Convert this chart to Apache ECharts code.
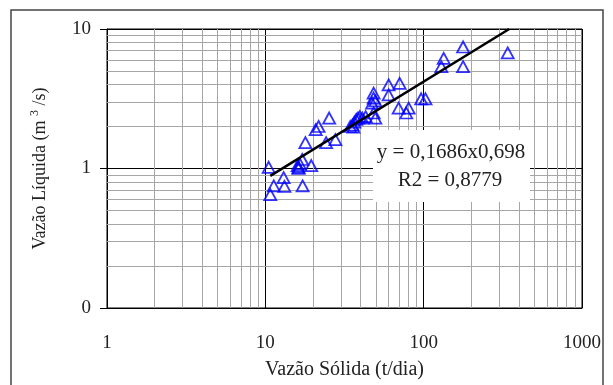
<!DOCTYPE html>
<html>
<head>
<meta charset="utf-8">
<script src="https://cdn.jsdelivr.net/npm/echarts@6/dist/echarts.min.js"></script>
<style>
html,body{margin:0;padding:0;background:#fff;}
#main{width:613px;height:385px;}
</style>
</head>
<body>
<div id="main"></div>
<script>
// medições: vazão sólida (t/dia) x vazão líquida (m3/s)
var solida = [10.5, 10.75, 11.3, 13.05, 13.2, 16.2, 16.2, 16.0, 16.5, 17.1, 17.2, 17.9, 19.5, 20.8, 21.7,
    25.3, 24.2, 27.7, 34.4, 35.5, 36.5, 37.5, 38.5, 39.5, 41, 36, 43, 47.2, 48.3, 48.3, 48.3, 49.5, 49.5,
    60.1, 60.1, 70.5, 69.5, 80.4, 77.6, 96.4, 102.7, 129.3, 133.8, 177.4, 177.4, 339.5];
var liquida = [1.02, 0.65, 0.75, 0.86, 0.745, 1.0, 1.02, 1.05, 1.08, 1.16, 0.75, 1.53, 1.05, 1.9, 2.0,
    2.3, 1.53, 1.61, 2.0, 2.05, 2.15, 2.25, 2.3, 2.35, 2.3, 1.98, 2.35, 2.94, 3.2, 3.47, 2.5, 2.3, 3.05,
    3.97, 3.37, 4.08, 2.71, 2.71, 2.5, 3.16, 3.16, 5.37, 6.15, 7.43, 5.37, 6.74];

// linha de tendência y = 0,1686x^0,698 (extremos)
var tendX = [10.75, 347];
var tendY = [0.885, 10];

// grade secundária
var gradeX = [2, 3, 4, 5, 6, 7, 8, 9, 20, 30, 40, 50, 60, 70, 80, 90, 200, 300, 400, 500, 600, 700, 800, 900];
var gradeY = [0.2, 0.3, 0.4, 0.5, 0.6, 0.7, 0.8, 0.9, 2, 3, 4, 5, 6, 7, 8, 9];

var eqTexto = 'y = 0,1686x0,698';
var r2Texto = 'R2 = 0,8779';

var fonte = '"Liberation Serif", "DejaVu Serif", serif';

var pontos = [];
for (var i = 0; i < solida.length; i++) {
    pontos.push([solida[i], liquida[i]]);
}
var tend = [];
for (var j = 0; j < tendX.length; j++) {
    tend.push([tendX[j], tendY[j]]);
}
var linhas = [];
for (var a = 0; a < gradeX.length; a++) linhas.push({xAxis: gradeX[a]});
for (var b = 0; b < gradeY.length; b++) linhas.push({yAxis: gradeY[b]});

var chart = echarts.init(document.getElementById('main'));
var option = {
    animation: false,
    backgroundColor: '#fff',
    grid: {
        left: 107,
        right: 31,
        top: 29,
        bottom: 75,
        show: true,
        borderColor: '#000',
        borderWidth: 1
    },
    xAxis: {
        type: 'log',
        logBase: 10,
        min: 1,
        max: 1000,
        z: 2,
        name: 'Vazão Sólida (t/dia)',
        nameLocation: 'middle',
        nameGap: 52,
        nameTextStyle: {fontFamily: fonte, fontSize: 20, color: '#222'},
        axisLine: {lineStyle: {color: '#000', width: 1}},
        axisTick: {show: false},
        axisLabel: {
            fontFamily: fonte, fontSize: 19, color: '#222', margin: 26,
            formatter: function (v) {
                return String(Math.round(v));
            }
        },
        splitLine: {show: true, lineStyle: {color: '#000', width: 1}}
    },
    yAxis: {
        type: 'log',
        logBase: 10,
        min: 0.1,
        max: 10,
        z: 2,
        name: '{a|Vazão Líquida (m }{s|3}{a| /s)}',
        nameLocation: 'middle',
        nameGap: 56,
        nameTextStyle: {
            rich: {
                a: {fontFamily: fonte, fontSize: 18, color: '#222', lineHeight: 22},
                s: {fontFamily: fonte, fontSize: 12, color: '#222', verticalAlign: 'top', lineHeight: 22}
            }
        },
        axisLine: {lineStyle: {color: '#000', width: 1}},
        axisTick: {show: true, length: 7, lineStyle: {color: '#000'}},
        axisLabel: {
            fontFamily: fonte, fontSize: 19, color: '#222', margin: 16,
            formatter: function (v) {
                return Math.abs(v - 0.1) < 1e-6 ? '0' : String(Math.round(v));
            }
        },
        splitLine: {show: true, lineStyle: {color: '#000', width: 1}}
    },
    graphic: {
        z: 100,
        elements: [
            {
                type: 'rect',
                shape: {x: 11, y: 10, width: 592, height: 400},
                style: {fill: 'none', stroke: '#444', lineWidth: 1.5},
                silent: true
            },
            {
                type: 'rect',
                z: 100,
                shape: {x: 373, y: 130, width: 157, height: 72},
                style: {fill: '#fff'},
                silent: true
            },
            {
                type: 'text',
                z: 101,
                x: 451, y: 152,
                style: {text: eqTexto, font: '21px ' + fonte, fill: '#222', align: 'center', verticalAlign: 'middle'}
            },
            {
                type: 'text',
                z: 101,
                x: 450, y: 180,
                style: {text: r2Texto, font: '21px ' + fonte, fill: '#222', align: 'center', verticalAlign: 'middle'}
            }
        ]
    },
    series: [
        {
            // grade secundária cinza
            type: 'line',
            z: 1,
            data: [],
            markLine: {
                silent: true,
                symbol: ['none', 'none'],
                label: {show: false},
                lineStyle: {color: '#a6a6a6', width: 1, type: 'solid'},
                data: linhas
            }
        },
        {
            type: 'scatter',
            z: 5,
            symbol: 'triangle',
            symbolSize: [12, 11],
            itemStyle: {color: 'rgba(0,0,0,0)', borderColor: '#0000ff', borderWidth: 1.8},
            data: pontos
        },
        {
            type: 'line',
            z: 6,
            showSymbol: false,
            lineStyle: {color: '#000', width: 2.5},
            data: tend
        }
    ]
};
chart.setOption(option);
</script>
</body>
</html>
